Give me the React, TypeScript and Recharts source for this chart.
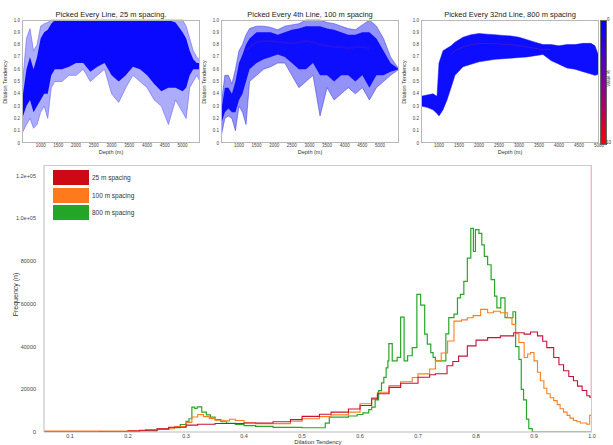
import { ComposedChart, LineChart, Line, Area, XAxis, YAxis } from "recharts";

// top panels: envelopes of the picked dilation-tendency profiles
const p1Depth = [480, 600, 700, 800, 900, 1000, 1100, 1200, 1300, 1400, 1600, 1800, 2000, 2200, 2400, 2600, 2800, 3000, 3200, 3400, 3600, 3800, 4000, 4200, 4400, 4600, 4800, 5000, 5100, 5200, 5300, 5400, 5490];
const p1OuterLow = [0.08, 0.15, 0.2, 0.12, 0.15, 0.25, 0.3, 0.2, 0.45, 0.5, 0.5, 0.55, 0.55, 0.6, 0.5, 0.55, 0.6, 0.4, 0.33, 0.45, 0.55, 0.5, 0.45, 0.35, 0.3, 0.15, 0.35, 0.25, 0.2, 0.45, 0.5, 0.55, 0.5];
const p1OuterHigh = [0.45, 0.85, 0.93, 0.75, 0.8, 0.95, 0.97, 0.98, 1, 1, 1, 1, 1, 1, 1, 1, 1, 1, 1, 1, 1, 1, 1, 1, 1, 1, 1, 1, 0.95, 0.85, 0.75, 0.7, 0.67];
const p1CoreLow = [0.2, 0.3, 0.35, 0.25, 0.3, 0.35, 0.4, 0.4, 0.55, 0.6, 0.6, 0.62, 0.65, 0.65, 0.58, 0.62, 0.65, 0.55, 0.5, 0.55, 0.62, 0.6, 0.55, 0.48, 0.42, 0.45, 0.45, 0.42, 0.45, 0.55, 0.6, 0.6, 0.6];
const p1CoreHigh = [0.35, 0.6, 0.7, 0.6, 0.7, 0.85, 0.9, 0.92, 0.97, 1, 1, 1, 1, 1, 1, 1, 1, 1, 1, 1, 1, 1, 1, 1, 1, 1, 0.98, 0.9, 0.85, 0.75, 0.68, 0.65, 0.65];

const p2Depth = [490, 600, 700, 800, 900, 1000, 1100, 1200, 1300, 1500, 1700, 1900, 2100, 2300, 2500, 2700, 2900, 3100, 3300, 3500, 3700, 3900, 4100, 4300, 4500, 4700, 4900, 5100, 5300, 5540];
const p2OuterLow = [0.05, 0.2, 0.22, 0.2, 0.1, 0.3, 0.25, 0.15, 0.5, 0.55, 0.6, 0.62, 0.65, 0.65, 0.55, 0.45, 0.5, 0.55, 0.22, 0.45, 0.35, 0.4, 0.45, 0.4, 0.45, 0.35, 0.45, 0.5, 0.55, 0.6];
const p2OuterHigh = [0.3, 0.55, 0.55, 0.48, 0.6, 0.75, 0.8, 0.88, 0.93, 0.95, 0.95, 0.94, 0.92, 0.95, 0.96, 0.97, 1, 1, 1, 0.98, 0.97, 0.95, 0.93, 0.92, 0.96, 1, 0.95, 0.85, 0.7, 0.6];
const p2CoreLow = [0.15, 0.25, 0.28, 0.25, 0.25, 0.35, 0.4, 0.5, 0.6, 0.65, 0.68, 0.7, 0.72, 0.7, 0.65, 0.6, 0.6, 0.65, 0.55, 0.55, 0.5, 0.55, 0.55, 0.5, 0.55, 0.45, 0.55, 0.55, 0.58, 0.6];
const p2CoreHigh = [0.25, 0.45, 0.45, 0.4, 0.5, 0.65, 0.72, 0.8, 0.85, 0.9, 0.9, 0.9, 0.88, 0.9, 0.92, 0.93, 0.95, 0.95, 0.95, 0.93, 0.92, 0.9, 0.88, 0.88, 0.9, 0.9, 0.85, 0.75, 0.65, 0.6];
const p2Mean = [null, null, null, null, null, null, null, 0.75, 0.78, 0.82, 0.83, 0.83, 0.82, 0.82, 0.81, 0.82, 0.83, 0.82, 0.8, 0.79, 0.78, 0.78, 0.77, 0.78, 0.78, 0.77, null, null, null, null];

const p3Depth = [550, 700, 850, 950, 1000, 1100, 1200, 1300, 1400, 1600, 1800, 2000, 2200, 2400, 2600, 2800, 3000, 3200, 3400, 3600, 3800, 4000, 4200, 4400, 4600, 4800, 4900, 5000];
const p3Low = [0.3, 0.29, 0.27, 0.24, 0.22, 0.27, 0.35, 0.45, 0.55, 0.62, 0.64, 0.66, 0.67, 0.68, 0.685, 0.69, 0.695, 0.7, 0.71, 0.72, 0.67, 0.64, 0.61, 0.6, 0.58, 0.56, 0.55, 0.56];
const p3High = [0.38, 0.39, 0.4, 0.38, 0.65, 0.75, 0.77, 0.79, 0.82, 0.86, 0.88, 0.89, 0.885, 0.88, 0.875, 0.87, 0.86, 0.84, 0.82, 0.8, 0.8, 0.79, 0.8, 0.8, 0.81, 0.81, 0.79, 0.7];
const p3Mean = [null, null, null, null, null, null, null, 0.72, 0.75, 0.78, 0.8, 0.81, 0.81, 0.81, 0.8, 0.8, 0.79, 0.78, 0.77, 0.76, 0.76, null, null, null, null, null, null, null];

const depthTicks = [1000, 1500, 2000, 2500, 3000, 3500, 4000, 4500, 5000];
const dtTicks = [0, 0.1, 0.2, 0.3, 0.4, 0.5, 0.6, 0.7, 0.8, 0.9, 1.0];

// bottom histogram (bin start, count)
const redX = [0.055, 0.1, 0.15, 0.2, 0.22, 0.25, 0.27, 0.3, 0.32, 0.35, 0.4, 0.45, 0.48, 0.5, 0.53, 0.55, 0.58, 0.6, 0.62, 0.63, 0.65, 0.67, 0.7, 0.72, 0.73, 0.75, 0.76, 0.77, 0.785, 0.8, 0.82, 0.842, 0.865, 0.883, 0.894, 0.906, 0.915, 0.922, 0.934, 0.943, 0.951, 0.96, 0.968, 0.975, 0.983, 0.991, 0.996, 0.999, 1.0];
const redY = [100, 150, 250, 500, 800, 1500, 2200, 3200, 3600, 4000, 4200, 4800, 5800, 7300, 8300, 9300, 10800, 12400, 15500, 17900, 20900, 22800, 25600, 26800, 27300, 31000, 33000, 35500, 40300, 43000, 44200, 45000, 46500, 45800, 46800, 45000, 42500, 39500, 34900, 31500, 28700, 26000, 24000, 21500, 19400, 17000, 16300, 130000, 130000];

const orangeX = [0.055, 0.1, 0.15, 0.2, 0.23, 0.25, 0.28, 0.3, 0.31, 0.32, 0.33, 0.34, 0.35, 0.365, 0.375, 0.385, 0.4, 0.42, 0.45, 0.48, 0.5, 0.53, 0.55, 0.58, 0.6, 0.62, 0.63, 0.65, 0.67, 0.69, 0.7, 0.72, 0.73, 0.74, 0.751, 0.762, 0.775, 0.785, 0.795, 0.808, 0.82, 0.83, 0.842, 0.854, 0.862, 0.868, 0.874, 0.883, 0.889, 0.894, 0.9, 0.906, 0.911, 0.917, 0.922, 0.928, 0.934, 0.94, 0.945, 0.951, 0.957, 0.962, 0.968, 0.974, 0.98, 0.991, 0.996, 1.0];
const orangeY = [400, 450, 450, 700, 1100, 1500, 2500, 4500, 7000, 8200, 7200, 6400, 5500, 5200, 6000, 5400, 4300, 3900, 3900, 5000, 6200, 7200, 8000, 9300, 13200, 16000, 18600, 21700, 23500, 25500, 27200, 29500, 33300, 37000, 42600, 51900, 52500, 53500, 54500, 57400, 55800, 56500, 55800, 53500, 50400, 46000, 41900, 34900, 36500, 37200, 33300, 28000, 24000, 20500, 17900, 16000, 14700, 12800, 10900, 9300, 7800, 6500, 5400, 4800, 4200, 3600, 7800, 7800];

const greenX = [0.055, 0.15, 0.2, 0.22, 0.25, 0.27, 0.29, 0.3, 0.305, 0.31, 0.315, 0.319, 0.327, 0.335, 0.342, 0.35, 0.36, 0.37, 0.385, 0.4, 0.42, 0.45, 0.5, 0.54, 0.547, 0.58, 0.595, 0.605, 0.615, 0.62, 0.626, 0.632, 0.637, 0.641, 0.645, 0.648, 0.6497, 0.6555, 0.664, 0.67, 0.676, 0.682, 0.69, 0.698, 0.7045, 0.7115, 0.716, 0.722, 0.726, 0.73, 0.748, 0.753, 0.762, 0.768, 0.773, 0.779, 0.785, 0.791, 0.7955, 0.799, 0.805, 0.81, 0.8143, 0.82, 0.826, 0.832, 0.836, 0.8427, 0.85, 0.8637, 0.8683, 0.874, 0.878, 0.882, 0.887, 0.891, 0.897, 1.0];
const greenY = [0, 200, 300, 500, 1200, 2000, 3500, 5000, 6200, 11600, 11000, 11800, 9300, 8000, 7000, 5800, 4800, 4000, 3500, 3000, 2600, 2200, 2000, 4200, 7000, 7500, 8200, 9000, 10500, 11600, 15000, 19400, 23000, 25600, 30000, 33300, 41400, 33300, 34900, 53800, 33300, 35700, 39500, 64400, 59400, 45800, 41100, 37200, 34900, 33300, 45900, 53500, 55200, 62800, 64400, 70500, 81400, 95300, 84500, 94700, 93000, 87600, 82200, 78300, 71300, 63600, 58100, 62800, 53500, 56300, 40000, 34000, 20000, 15000, 6000, 1600, 0, 0];

const binTicks = [0.1, 0.2, 0.3, 0.4, 0.5, 0.6, 0.7, 0.8, 0.9, 1.0];
const freqTicks = [0, 20000, 40000, 60000, 80000, 100000, 120000];

const legendItems = [
  { name: "25 m spacing", color: "#cc0a14" },
  { name: "100 m spacing", color: "#ff7a1a" },
  { name: "800 m spacing", color: "#22a628" },
];

const FONT = "'Liberation Sans', Arial, sans-serif";
const BLUE = "#0000ff";

const toPts = (xs: number[], ys: number[]) => xs.map((x, i) => ({ x, y: ys[i] }));

function TopPanel(props: any) {
  const { left, width, mLeft, mRight, domain, data, title, children } = props;
  const plotL = mLeft + 14;
  const plotW = width - plotL - mRight;
  return (
    <div style={{ position: "absolute", left, top: 0, width, height: 160 }}>
      <ComposedChart width={width} height={160} data={data} margin={{ top: 20, right: mRight, bottom: 7, left: mLeft }}>
        <XAxis dataKey="depth" type="number" domain={domain} ticks={depthTicks} allowDataOverflow
          axisLine={false} tickLine={false} tickSize={0} height={10} tickMargin={1} interval={0}
          tick={{ fontSize: 4.5, fill: "#444", fontFamily: FONT }} />
        <YAxis type="number" domain={[0, 1]} ticks={dtTicks} width={14} axisLine={false} tickLine={false}
          tickSize={0} tickMargin={2} interval={0} tickFormatter={(v: number) => (v === 0 ? "0" : v.toFixed(1))}
          tick={{ fontSize: 4.5, fill: "#444", fontFamily: FONT }} />
        {children}
      </ComposedChart>
      <div style={{ position: "absolute", left: plotL, top: 20, width: plotW, height: 123, border: "1px solid #b8b8b8", boxSizing: "border-box" }} />
      <div style={{ position: "absolute", left: plotL, top: 10, width: plotW, textAlign: "center", fontSize: 7.5, fontFamily: FONT, color: "#222", whiteSpace: "nowrap" }}>{title}</div>
      <div style={{ position: "absolute", left: plotL, top: 149, width: plotW, textAlign: "center", fontSize: 5.5, fontFamily: FONT, color: "#333" }}>Depth (m)</div>
      <div style={{ position: "absolute", left: mLeft - 33, top: 79, width: 60, textAlign: "center", fontSize: 5.5, fontFamily: FONT, color: "#333", transform: "rotate(-90deg)" }}>Dilation Tendency</div>
    </div>
  );
}

export default function App() {
  const p1 = p1Depth.map((d, i) => ({ depth: d, outer: [p1OuterLow[i], p1OuterHigh[i]], core: [p1CoreLow[i], p1CoreHigh[i]] }));
  const p2 = p2Depth.map((d, i) => ({ depth: d, outer: [p2OuterLow[i], p2OuterHigh[i]], core: [p2CoreLow[i], p2CoreHigh[i]], mean: p2Mean[i] }));
  const p3 = p3Depth.map((d, i) => ({ depth: d, band: [p3Low[i], p3High[i]], mean: p3Mean[i] }));

  return (
    <div style={{ position: "absolute", left: 0, top: 0, width: 613, height: 445, background: "#fff", overflow: "hidden", fontFamily: FONT }}>
      <TopPanel left={0} width={205} mLeft={8} mRight={5} domain={[475, 5490]} data={p1} title="Picked Every Line, 25 m spacing.">
        <Area dataKey="outer" type="linear" stroke="#5050ff" strokeWidth={0.5} fill="#4646f5" fillOpacity={0.45} isAnimationActive={false} />
        <Area dataKey="core" type="linear" stroke="none" fill={BLUE} fillOpacity={0.95} isAnimationActive={false} />
      </TopPanel>
      <TopPanel left={200} width={205} mLeft={7} mRight={6} domain={[490, 5540]} data={p2} title="Picked Every 4th Line, 100 m spacing">
        <Area dataKey="outer" type="linear" stroke="#3030e0" strokeWidth={0.5} fill="#3b3bf0" fillOpacity={0.55} isAnimationActive={false} />
        <Area dataKey="core" type="linear" stroke="none" fill={BLUE} fillOpacity={0.9} isAnimationActive={false} />
        <Line dataKey="mean" type="linear" stroke="#7020a0" strokeOpacity={0.25} strokeWidth={2} dot={false} connectNulls={false} isAnimationActive={false} />
      </TopPanel>
      <TopPanel left={400} width={213} mLeft={7} mRight={14} domain={[550, 5000]} data={p3} title="Picked Every 32nd Line, 800 m spacing">
        <Area dataKey="band" type="linear" stroke="#1010f0" strokeWidth={0.5} fill={BLUE} fillOpacity={0.95} isAnimationActive={false} />
        <Line dataKey="mean" type="linear" stroke="#a03070" strokeOpacity={0.3} strokeWidth={1} dot={false} isAnimationActive={false} />
      </TopPanel>

      {/* colour bar */}
      <div style={{ position: "absolute", left: 600, top: 20, width: 5, height: 123, background: "linear-gradient(to bottom, #0000ff, #8000a0 50%, #ff0000)", border: "0.5px solid #666" }} />
      <div style={{ position: "absolute", left: 607, top: 17, fontSize: 4.5, color: "#333" }}>0</div>
      <div style={{ position: "absolute", left: 606, top: 140, fontSize: 4.5, color: "#333" }}>10</div>
      <div style={{ position: "absolute", left: 593, top: 76, width: 30, textAlign: "center", fontSize: 4.5, color: "#333", transform: "rotate(-90deg)" }}>Value %</div>

      {/* bottom histogram */}
      <div style={{ position: "absolute", left: 0, top: 160, width: 613, height: 285 }}>
        <LineChart width={613} height={285} margin={{ top: 5, right: 21, bottom: 0, left: 4 }}>
          <XAxis dataKey="x" type="number" domain={[0.055, 1.0]} ticks={binTicks} allowDataOverflow interval={0}
            axisLine={{ stroke: "#bbb" }} tickLine={false} tickSize={0} height={13} tickMargin={2}
            tickFormatter={(v: number) => v.toFixed(1)} tick={{ fontSize: 5.5, fill: "#444", fontFamily: FONT }} />
          <YAxis type="number" domain={[0, 125000]} ticks={freqTicks} allowDataOverflow width={40} interval={0}
            axisLine={{ stroke: "#bbb" }} tickLine={false} tickSize={0} tickMargin={8}
            tickFormatter={(v: number) => (v >= 100000 ? v.toExponential(1).replace("e+5", "e+05") : String(v))}
            tick={{ fontSize: 5.5, fill: "#444", fontFamily: FONT }} />
          <Line data={toPts(greenX, greenY)} dataKey="y" type="stepAfter" stroke="#2aa52a" strokeWidth={1.2} dot={false} isAnimationActive={false} />
          <Line data={toPts(orangeX, orangeY)} dataKey="y" type="stepAfter" stroke="#ff7f1e" strokeWidth={1.1} dot={false} isAnimationActive={false} />
          <Line data={toPts(redX, redY)} dataKey="y" type="stepAfter" stroke="#c8103a" strokeWidth={1.1} dot={false} isAnimationActive={false} />
        </LineChart>
        <div style={{ position: "absolute", left: 44, top: 5, width: 548, height: 267, borderTop: "1px solid #ccc", borderRight: "1px solid #ccc", boxSizing: "border-box" }} />
        {legendItems.map((it, i) => (
          <div key={it.name} style={{ position: "absolute", left: 53, top: 10 + i * 17.5, height: 15, display: "flex", alignItems: "center" }}>
            <div style={{ width: 36, height: 15, background: it.color }} />
            <span style={{ marginLeft: 3, fontSize: 6.5, color: "#333" }}>{it.name}</span>
          </div>
        ))}
        <div style={{ position: "absolute", left: 268, top: 279, width: 100, textAlign: "center", fontSize: 6, lineHeight: "6px", color: "#333" }}>Dilation Tendency</div>
        <div style={{ position: "absolute", left: -15, top: 131, width: 60, textAlign: "center", fontSize: 7, color: "#333", transform: "rotate(-90deg)" }}>Frequency (n)</div>
      </div>
    </div>
  );
}
